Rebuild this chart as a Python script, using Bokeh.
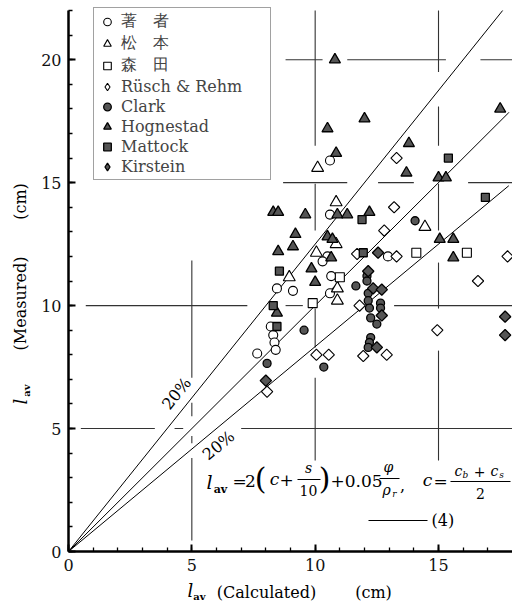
import numpy as np
from bokeh.plotting import figure
from bokeh.models import (Range1d, SingleIntervalTicker, Label, Legend, LegendItem,
                          BoxAnnotation)
from bokeh.embed import file_html
from bokeh.resources import INLINE

# ---------------- data ----------------
author_x = [10.6, 10.6, 10.5, 10.3, 10.65, 8.45, 9.1, 10.6, 12.95, 8.2, 8.3, 8.35, 8.4, 7.65]
author_y = [15.9, 13.7, 12.0, 11.8, 11.2, 10.7, 10.6, 10.5, 12.0, 9.15, 8.8, 8.5, 8.2, 8.05]

matsumoto_x = [10.1, 10.85, 10.05, 10.85, 8.95, 10.9, 10.9, 14.45]
matsumoto_y = [15.6, 14.2, 12.15, 12.5, 11.15, 10.7, 10.2, 13.2]

morita_x = [11.0, 9.9, 14.1, 16.15]
morita_y = [11.15, 10.1, 12.15, 12.15]

rusch_x = [13.3, 13.2, 12.8, 11.7, 13.3, 17.8, 16.6, 14.95, 11.8, 11.95, 12.9, 10.05, 10.55, 8.05]
rusch_y = [16.0, 14.0, 13.05, 12.1, 12.0, 12.0, 11.0, 9.0, 10.0, 7.95, 8.0, 8.0, 8.0, 6.5]

clark_x = [14.05, 9.55, 10.35, 12.1, 12.1, 11.65, 12.15, 12.15, 12.2, 12.65, 12.65, 12.25,
           12.5, 12.25, 12.2, 12.15, 8.05]
clark_y = [13.45, 9.0, 7.5, 11.2, 11.0, 10.8, 10.5, 10.2, 9.9, 10.1, 9.9, 9.5,
           9.25, 8.7, 8.5, 8.3, 7.65]

hognestad_x = [10.8, 12.0, 10.5, 10.85, 13.8, 13.7, 15.0, 15.3, 17.5, 8.3, 8.5, 9.6, 10.9,
               11.3, 12.2, 9.2, 9.1, 8.5, 10.5, 10.7, 10.65, 9.85, 10.0, 8.45, 15.05,
               15.6, 15.6]
hognestad_y = [20.0, 17.6, 17.2, 16.2, 16.6, 15.4, 15.2, 15.2, 18.0, 13.8, 13.8, 13.7, 13.7,
               13.7, 13.8, 12.9, 12.4, 12.2, 12.8, 12.7, 11.95, 11.5, 10.95, 9.7, 12.7,
               12.7, 11.95]

mattock_x = [15.4, 16.9, 11.9, 8.55, 8.3, 8.45, 11.95]
mattock_y = [16.0, 14.4, 13.5, 11.4, 10.0, 9.15, 12.15]

kirstein_x = [12.55, 12.15, 12.35, 12.7, 12.7, 12.5, 17.7, 17.7, 8.0]
kirstein_y = [12.15, 11.4, 10.7, 10.65, 9.6, 8.3, 9.55, 8.8, 6.95]

series_labels = ["著　者", "松　本", "森　田", "Rüsch & Rehm", "Clark", "Hognestad",
                 "Mattock", "Kirstein"]

# lines through the origin: measured = calculated / 0.8, = calculated, = calculated / 1.2
line_ratios = [1.25, 1.0, 1 / 1.2]
line_x_end = [17.6, 17.85, 17.85]

x_axis_bounds = (0, 18)
y_axis_bounds = (0, 22)
tick_interval = 5

# broken guide lines (data units)
grid_v = [  # x, y_from, y_to
    (5, 11.83, 7.07), (5, 6.05, 5.5), (5, 4.7, 4.4), (5, 3.8, 0.45),
    (10, 22.0, 16.5), (10, 14.96, 13.05), (10, 9.88, 8.3), (10, 7.07, 3.7),
    (15, 22.0, 19.5), (15, 18.1, 16.5), (15, 14.96, 13.05), (15, 11.75, 9.88), (15, 8.17, 3.7),
]
grid_h = [  # y, x_from, x_to
    (20, 8.8, 10.3), (20, 11.3, 15.3), (20, 16.7, 18.0),
    (15, 8.7, 11.3), (15, 12.55, 14.0), (15, 16.2, 18.0),
    (10, 0.7, 7.25), (10, 8.8, 9.5), (10, 13.2, 18.0),
    (5, 0.5, 3.5), (5, 4.3, 4.65), (5, 7.0, 18.0),
]

# ---------------- figure ----------------
W, H = 512, 608
OX, OY = 68, 551          # pixel position of the origin
PXU, PYU = 24.667, 24.59  # pixels per cm
SERIF = "DejaVu Serif"


def X(px):
    return (px - OX) / PXU


def Y(py):
    return (OY - py) / PYU


p = figure(width=W, height=H, x_range=Range1d(X(0), X(W)), y_range=Range1d(Y(H), Y(0)),
           output_backend="svg", toolbar_location=None, title=None,
           min_border_left=0, min_border_right=0, min_border_top=0, min_border_bottom=0)
p.outline_line_color = None
p.grid.visible = False
p.background_fill_color = "white"
p.border_fill_color = "white"

for ax, bnd in ((p.xaxis[0], x_axis_bounds), (p.yaxis[0], y_axis_bounds)):
    ax.fixed_location = 0
    ax.bounds = bnd
    ax.ticker = SingleIntervalTicker(interval=tick_interval, num_minor_ticks=5)
    ax.axis_line_width = 2.5
    ax.axis_line_color = "black"
    ax.major_tick_in = 7
    ax.major_tick_out = 0
    ax.minor_tick_in = 4
    ax.minor_tick_out = 0
    ax.major_tick_line_width = 2
    ax.minor_tick_line_width = 1.3
    ax.major_tick_line_color = "black"
    ax.minor_tick_line_color = "black"
    ax.major_label_text_font = SERIF
    ax.major_label_text_font_size = "16px"
    ax.major_label_text_color = "#111"
    ax.major_label_standoff = 7

# guide lines
p.segment(x0=[g[0] for g in grid_v], y0=[g[1] for g in grid_v],
          x1=[g[0] for g in grid_v], y1=[g[2] for g in grid_v],
          line_color="#333", line_width=1.1)
p.segment(x0=[g[1] for g in grid_h], y0=[g[0] for g in grid_h],
          x1=[g[2] for g in grid_h], y1=[g[0] for g in grid_h],
          line_color="#333", line_width=1.1)

# reference lines
for r, xe in zip(line_ratios, line_x_end):
    p.line([0, xe], [0, r * xe], line_color="black", line_width=1)

# ---------------- scatter series ----------------
HOLLOW = dict(fill_color="white", line_color="black", line_width=1.1)
SOLID = dict(fill_color="#555", line_color="black", line_width=1.3)

# diamond markers (used for the legend symbol; covered by the rotated squares on the chart)
rusch_key = p.scatter(rusch_x, rusch_y, marker="diamond", size=9, **HOLLOW)
kirstein_key = p.scatter(kirstein_x, kirstein_y, marker="diamond", size=9, **SOLID)

r_author = p.scatter(author_x, author_y, marker="circle", size=9, **HOLLOW)
r_matsu = p.scatter(matsumoto_x, matsumoto_y, marker="triangle", size=12, **HOLLOW)
r_morita = p.scatter(morita_x, morita_y, marker="square", size=9, **HOLLOW)
p.scatter(rusch_x, rusch_y, marker="square", angle=np.pi / 4, size=8, **HOLLOW)
r_clark = p.scatter(clark_x, clark_y, marker="circle", size=8, **SOLID)
r_hog = p.scatter(hognestad_x, hognestad_y, marker="triangle", size=11, **SOLID)
r_matt = p.scatter(mattock_x, mattock_y, marker="square", size=8, **SOLID)
p.scatter(kirstein_x, kirstein_y, marker="square", angle=np.pi / 4, size=8, **SOLID)

legend_renderers = [r_author, r_matsu, r_morita, rusch_key, r_clark, r_hog, r_matt, kirstein_key]
legend = Legend(items=[LegendItem(label=l, renderers=[r]) for l, r in zip(series_labels, legend_renderers)],
                location=(93, H - 180), padding=3, spacing=1, margin=0,
                glyph_width=20, glyph_height=19, label_height=19, label_standoff=4,
                label_width=146, label_text_font=SERIF, label_text_font_size="16px",
                border_line_color="#444", border_line_width=1, background_fill_alpha=1)
p.add_layout(legend)


# ---------------- texts ----------------
def txt(px, py, s, size=17, style="normal", align="center", baseline="middle", angle=0.0):
    p.add_layout(Label(x=X(px), y=Y(py), text=s, text_font=SERIF, text_font_size=f"{size}px",
                       text_font_style=style, text_align=align, text_baseline=baseline,
                       angle=angle, text_color="black"))


def bar(px0, px1, py):
    p.add_layout(BoxAnnotation(left=X(px0), right=X(px1), top=Y(py - 0.5), bottom=Y(py + 0.5),
                               fill_color="black", fill_alpha=1, line_color=None))


# 20% labels
txt(176, 393, "20%", 16, angle=np.arctan(1.25))
txt(218, 445, "20%", 16, angle=np.arctan(1 / 1.2))

# formula (4)
txt(209, 481, "l", 19, "italic")
txt(220, 489, "av", 11, "bold")
txt(239, 480, "=", 17)
txt(250, 480, "2", 17)
txt(260, 478, "(", 30)
txt(274, 478, "c", 17, "italic")
txt(286, 479, "+", 17)
txt(308, 467, "s", 14, "italic")
bar(297, 320, 479)
txt(308, 490, "10", 14)
txt(324, 478, ")", 30)
txt(330, 480, "+0.05", 17, align="left")
txt(388, 466, "φ", 14, "italic")
bar(379, 399, 478)
txt(386, 489, "ρ", 14, "italic")
txt(394, 493, "r", 9, "italic")
txt(402, 484, ",", 16)
txt(427, 479, "c", 17, "italic")
txt(440, 480, "=", 17)
txt(458, 470, "c", 14, "italic")
txt(465, 474, "b", 9, "italic")
txt(479, 471, "+", 14)
txt(494, 470, "c", 14, "italic")
txt(501, 474, "s", 9, "italic")
bar(450, 510, 481)
txt(480, 493, "2", 14)
bar(368, 427, 520)
txt(431, 520, "(4)", 16, align="left")

# axis titles
txt(190, 590, "l", 18, "italic")
txt(199, 596, "av", 10, "bold")
txt(266, 592, "(Calculated)", 16)
txt(373, 592, "(cm)", 16)

txt(20, 401, "l", 18, "italic", angle=np.pi / 2)
txt(26, 390, "av", 10, "bold", angle=np.pi / 2)
txt(20, 303, "(Measured)", 16, angle=np.pi / 2)
txt(20, 201, "(cm)", 16, angle=np.pi / 2)

open("out.html", "w").write(file_html(p, INLINE))
